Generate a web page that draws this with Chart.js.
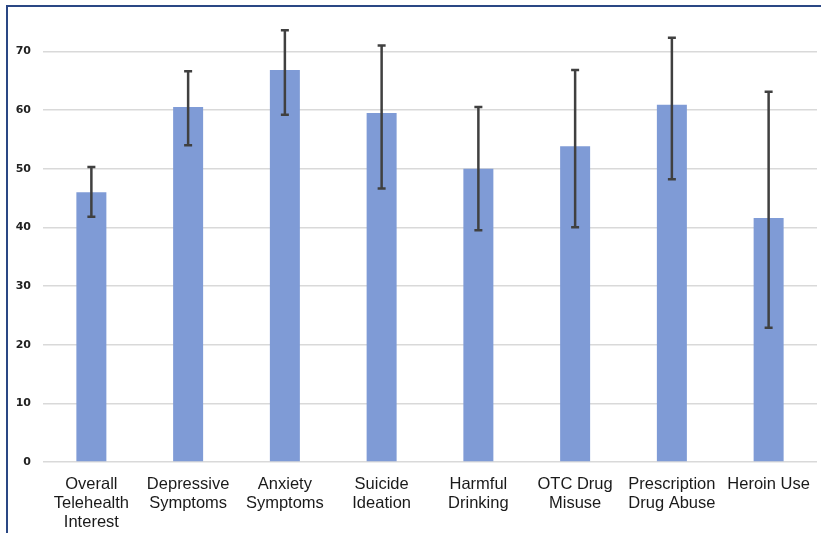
<!DOCTYPE html>
<html>
<head>
<meta charset="utf-8">
<script src="https://cdn.jsdelivr.net/npm/chart.js@4/dist/chart.umd.min.js"></script>
<style>
  html, body { margin: 0; padding: 0; background: #fff; }
  #frame {
    position: absolute; left: 6px; top: 5px; width: 820px; height: 540px;
    border-top: 2px solid #2a4784; border-left: 2px solid #2a4784;
  }
  #wrap { position: absolute; left: 0; top: 0; width: 821px; height: 533px; }
</style>
</head>
<body>
<div id="frame"></div>
<div id="wrap"><canvas id="chart" width="821" height="533"></canvas></div>
<script>
const categories = [
  ["Overall", "Telehealth", "Interest"],
  ["Depressive", "Symptoms"],
  ["Anxiety", "Symptoms"],
  ["Suicide", "Ideation"],
  ["Harmful", "Drinking"],
  ["OTC Drug", "Misuse"],
  ["Prescription", "Drug Abuse"],
  ["Heroin Use"]
];
const values = [46.0, 60.5, 66.8, 59.5, 50.0, 53.8, 60.9, 41.6];
const errLow = [41.8, 54.0, 59.2, 46.6, 39.5, 40.0, 48.2, 22.9];
const errHigh = [50.3, 66.6, 73.6, 71.0, 60.5, 66.8, 72.3, 63.1];
const yTicks = [0, 10, 20, 30, 40, 50, 60, 70];

const errorBars = {
  id: "errorBars",
  afterDatasetsDraw(chart) {
    const ctx = chart.ctx;
    const y = chart.scales.y;
    const bars = chart.getDatasetMeta(0).data;
    ctx.save();
    ctx.strokeStyle = "#404040";
    ctx.lineWidth = 2.5;
    bars.forEach((bar, i) => {
      const top = y.getPixelForValue(errHigh[i]);
      const bottom = y.getPixelForValue(errLow[i]);
      ctx.beginPath();
      ctx.moveTo(bar.x, top);
      ctx.lineTo(bar.x, bottom);
      ctx.moveTo(bar.x - 4, top);
      ctx.lineTo(bar.x + 4, top);
      ctx.moveTo(bar.x - 4, bottom);
      ctx.lineTo(bar.x + 4, bottom);
      ctx.stroke();
    });
    ctx.restore();
  }
};

new Chart(document.getElementById("chart").getContext("2d"), {
  type: "bar",
  data: {
    labels: categories,
    datasets: [{
      data: values,
      backgroundColor: "#7f9bd6",
      barPercentage: 0.31,
      categoryPercentage: 1
    }]
  },
  plugins: [errorBars],
  options: {
    responsive: false,
    animation: false,
    layout: { padding: { top: 22, right: 4, left: 0, bottom: 0 } },
    plugins: { legend: { display: false }, tooltip: { enabled: false } },
    scales: {
      x: {
        grid: { display: false },
        border: { display: false },
        ticks: {
          color: "#1a1a1a",
          font: { family: "Liberation Sans", size: 16.5, lineHeight: 1.15 },
          maxRotation: 0,
          autoSkip: false,
          padding: 5
        },
        afterFit: (scale) => { scale.height = 71; }
      },
      y: {
        min: 0,
        max: 75,
        grid: { color: "#d9d9d9", lineWidth: 1.5, drawTicks: false },
        border: { display: false },
        afterBuildTicks: (scale) => { scale.ticks = yTicks.map((v) => ({ value: v })); },
        ticks: {
          color: "#222",
          font: { family: "DejaVu Sans", size: 11, weight: "bold" },
          padding: 12
        },
        afterFit: (scale) => { scale.width = 43; }
      }
    }
  }
});
</script>
</body>
</html>
